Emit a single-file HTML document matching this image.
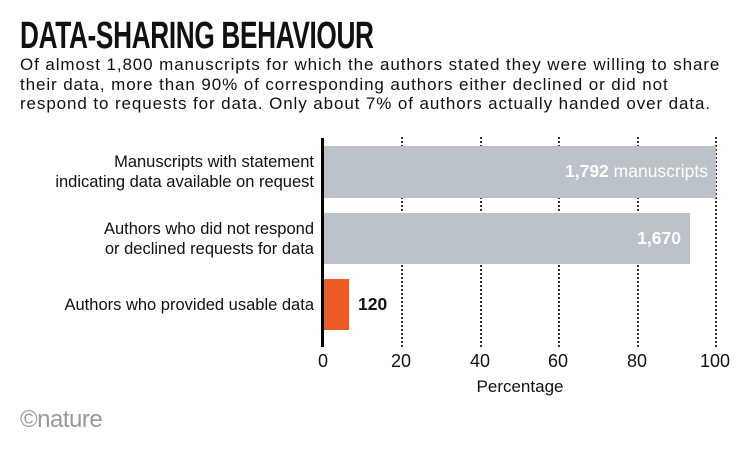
<!DOCTYPE html>
<html><head><meta charset="utf-8"><style>
body{margin:0;width:751px;height:451px;background:#fff;font-family:"Liberation Sans",sans-serif;color:#111;position:relative;overflow:hidden}
.t{position:absolute;left:20px;top:15px;font-size:38px;font-weight:bold;letter-spacing:-0.5px;transform:scaleX(0.69);transform-origin:left top;white-space:nowrap}
.s{position:absolute;left:20px;top:55px;font-size:17px;line-height:19.5px;letter-spacing:0.9px;white-space:nowrap}
.l{position:absolute;right:437px;text-align:right;font-size:16.5px;line-height:20px;white-space:nowrap}
.g{position:absolute;top:137px;height:210px;border-left:2px dotted #333;width:0}
.b{position:absolute;left:324px;background:#bbc2ca}
.k{position:absolute;top:351px;font-size:18px;transform:translateX(-50%)}
</style></head><body>
<div class="t">DATA-SHARING BEHAVIOUR</div>
<div class="s">Of almost 1,800 manuscripts for which the authors stated they were willing to share<br>their data, more than 90% of corresponding authors either declined or did not<br>respond to requests for data. Only about 7% of authors actually handed over data.</div>
<div class="g" style="left:401px"></div><div class="g" style="left:480px"></div><div class="g" style="left:558px"></div><div class="g" style="left:637px"></div><div class="g" style="left:715px"></div>
<div class="b" style="top:146px;height:52px;width:392px"></div>
<div class="b" style="top:213px;height:51px;width:366px"></div>
<div class="b" style="top:279px;height:51px;width:25px;background:#ec5b27"></div>
<div style="position:absolute;top:138px;left:321px;width:3px;height:209px;background:#000"></div>
<div style="position:absolute;top:161px;right:43px;color:#fff;font-size:17.5px"><b>1,792</b> manuscripts</div>
<div style="position:absolute;top:228px;right:70px;color:#fff;font-size:17.5px;font-weight:bold">1,670</div>
<div style="position:absolute;top:294px;left:358px;font-size:17.5px;font-weight:bold">120</div>
<div class="l" style="top:152px">Manuscripts with statement<br>indicating data available on request</div>
<div class="l" style="top:219px">Authors who did not respond<br>or declined requests for data</div>
<div class="l" style="top:295px">Authors who provided usable data</div>
<div class="k" style="left:323px">0</div><div class="k" style="left:401px">20</div><div class="k" style="left:480px">40</div><div class="k" style="left:558px">60</div><div class="k" style="left:637px">80</div><div class="k" style="left:715px">100</div>
<div style="position:absolute;top:377px;left:520px;font-size:17px;transform:translateX(-50%)">Percentage</div>
<div style="position:absolute;top:406px;left:20px;font-size:24px;color:#999;letter-spacing:-0.5px">©nature</div>
</body></html>
